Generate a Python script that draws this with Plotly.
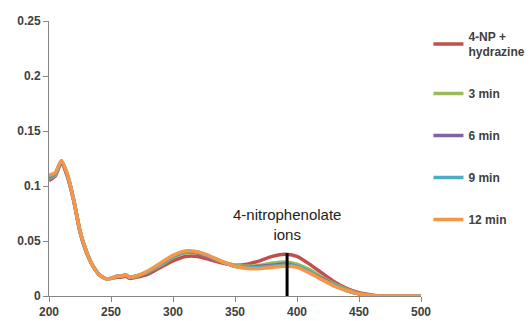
import plotly.graph_objects as go

wavelength = [200, 205, 210, 215, 220, 225, 230, 235, 240, 245, 250, 255, 258, 262, 265, 270,
              280, 290, 300, 310, 320, 330, 340, 350, 360, 370, 380, 390, 400, 410, 420,
              430, 440, 450, 460, 470, 480, 490, 500]

np_hydrazine = [0.105, 0.109, 0.121, 0.108, 0.086, 0.058, 0.040, 0.028, 0.020, 0.016, 0.016, 0.017,
                0.017, 0.018, 0.016, 0.017, 0.020, 0.026, 0.032, 0.036, 0.036, 0.033, 0.030, 0.028,
                0.029, 0.032, 0.036, 0.038, 0.036, 0.029, 0.021, 0.013, 0.007, 0.003, 0.001, 0.0,
                0.0, 0.0, 0.0]
min3 = [0.107, 0.110, 0.122, 0.109, 0.087, 0.059, 0.041, 0.028, 0.020, 0.016, 0.016, 0.018,
        0.018, 0.019, 0.017, 0.018, 0.022, 0.028, 0.035, 0.039, 0.039, 0.035, 0.031, 0.028,
        0.027, 0.028, 0.030, 0.031, 0.029, 0.024, 0.017, 0.011, 0.006, 0.002, 0.0005, 0.0,
        0.0, 0.0, 0.0]
min6 = [0.108, 0.111, 0.122, 0.109, 0.087, 0.059, 0.041, 0.028, 0.020, 0.016, 0.016, 0.018,
        0.018, 0.019, 0.017, 0.018, 0.022, 0.029, 0.036, 0.040, 0.039, 0.035, 0.031, 0.027,
        0.026, 0.027, 0.028, 0.029, 0.027, 0.022, 0.016, 0.010, 0.005, 0.002, 0.0005, 0.0,
        0.0, 0.0, 0.0]
min9 = [0.109, 0.111, 0.123, 0.110, 0.087, 0.059, 0.041, 0.028, 0.020, 0.016, 0.016, 0.018,
        0.018, 0.019, 0.017, 0.018, 0.022, 0.029, 0.036, 0.040, 0.040, 0.036, 0.031, 0.027,
        0.026, 0.026, 0.027, 0.028, 0.027, 0.022, 0.015, 0.010, 0.005, 0.002, 0.0005, 0.0,
        0.0, 0.0, 0.0]
min12 = [0.110, 0.112, 0.123, 0.110, 0.087, 0.059, 0.041, 0.028, 0.020, 0.016, 0.016, 0.018,
         0.018, 0.019, 0.017, 0.018, 0.023, 0.030, 0.037, 0.041, 0.040, 0.036, 0.031, 0.027,
         0.025, 0.025, 0.026, 0.027, 0.026, 0.021, 0.015, 0.009, 0.005, 0.002, 0.0005, 0.0,
         0.0, 0.0, 0.0]

series_names = ["4-NP +<br>hydrazine", "3 min", "6 min", "9 min", "12 min"]
series_values = [np_hydrazine, min3, min6, min9, min12]
series_colors = ["#C0504D", "#9BBB59", "#8064A2", "#4BACC6", "#F79646"]

marker_x = [392, 392]
marker_y = [0, 0.039]

x_ticks = [200, 250, 300, 350, 400, 450, 500]
y_ticks = [0, 0.05, 0.1, 0.15, 0.2, 0.25]
y_ticklabels = ["0", "0.05", "0.1", "0.15", "0.2", "0.25"]

FONT = "Liberation Sans"
AXIS = "#868686"
TEXT = "#404040"

fig = go.Figure()
for i, (name, vals, col) in enumerate(zip(series_names, series_values, series_colors)):
    fig.add_trace(go.Scatter(
        x=wavelength, y=vals, mode="lines", name=name,
        line=dict(color=col, width=3.5, shape="spline", smoothing=0.6),
        legendgroup=f"g{i}",
    ))

fig.add_trace(go.Scatter(x=marker_x, y=marker_y, mode="lines",
                         line=dict(color="black", width=3), showlegend=False,
                         hoverinfo="skip"))

fig.add_annotation(x=392, y=0.046, xref="x", yref="y", yanchor="bottom",
                   text="4-nitrophenolate<br>ions", showarrow=False,
                   font=dict(family=FONT, size=15, color="#222222"))

fig.update_layout(
    width=530, height=321,
    margin=dict(l=49, r=109, t=21, b=25, autoexpand=False),
    paper_bgcolor="white", plot_bgcolor="white",
    font=dict(family=FONT, size=12, color=TEXT),
    showlegend=True,
    legend=dict(x=1.02, y=0.997, xanchor="left", yanchor="top",
                traceorder="grouped", tracegroupgap=23, itemwidth=30,
                font=dict(family=FONT, size=12, color=TEXT, weight="bold"),
                bgcolor="rgba(0,0,0,0)"),
)
fig.update_xaxes(range=[200, 500], tickvals=x_ticks, showgrid=False, zeroline=False,
                 showline=True, linecolor=AXIS, linewidth=1,
                 ticks="outside", ticklen=5, tickcolor=AXIS, automargin=False,
                 tickfont=dict(family=FONT, size=12, color=TEXT, weight="bold"))
fig.update_yaxes(range=[0, 0.25], tickvals=y_ticks, ticktext=y_ticklabels,
                 showgrid=False, zeroline=False, automargin=False,
                 showline=True, linecolor=AXIS, linewidth=1,
                 ticks="outside", ticklen=5, tickcolor=AXIS,
                 tickfont=dict(family=FONT, size=12, color=TEXT, weight="bold"))

fig.write_html("out.html")
